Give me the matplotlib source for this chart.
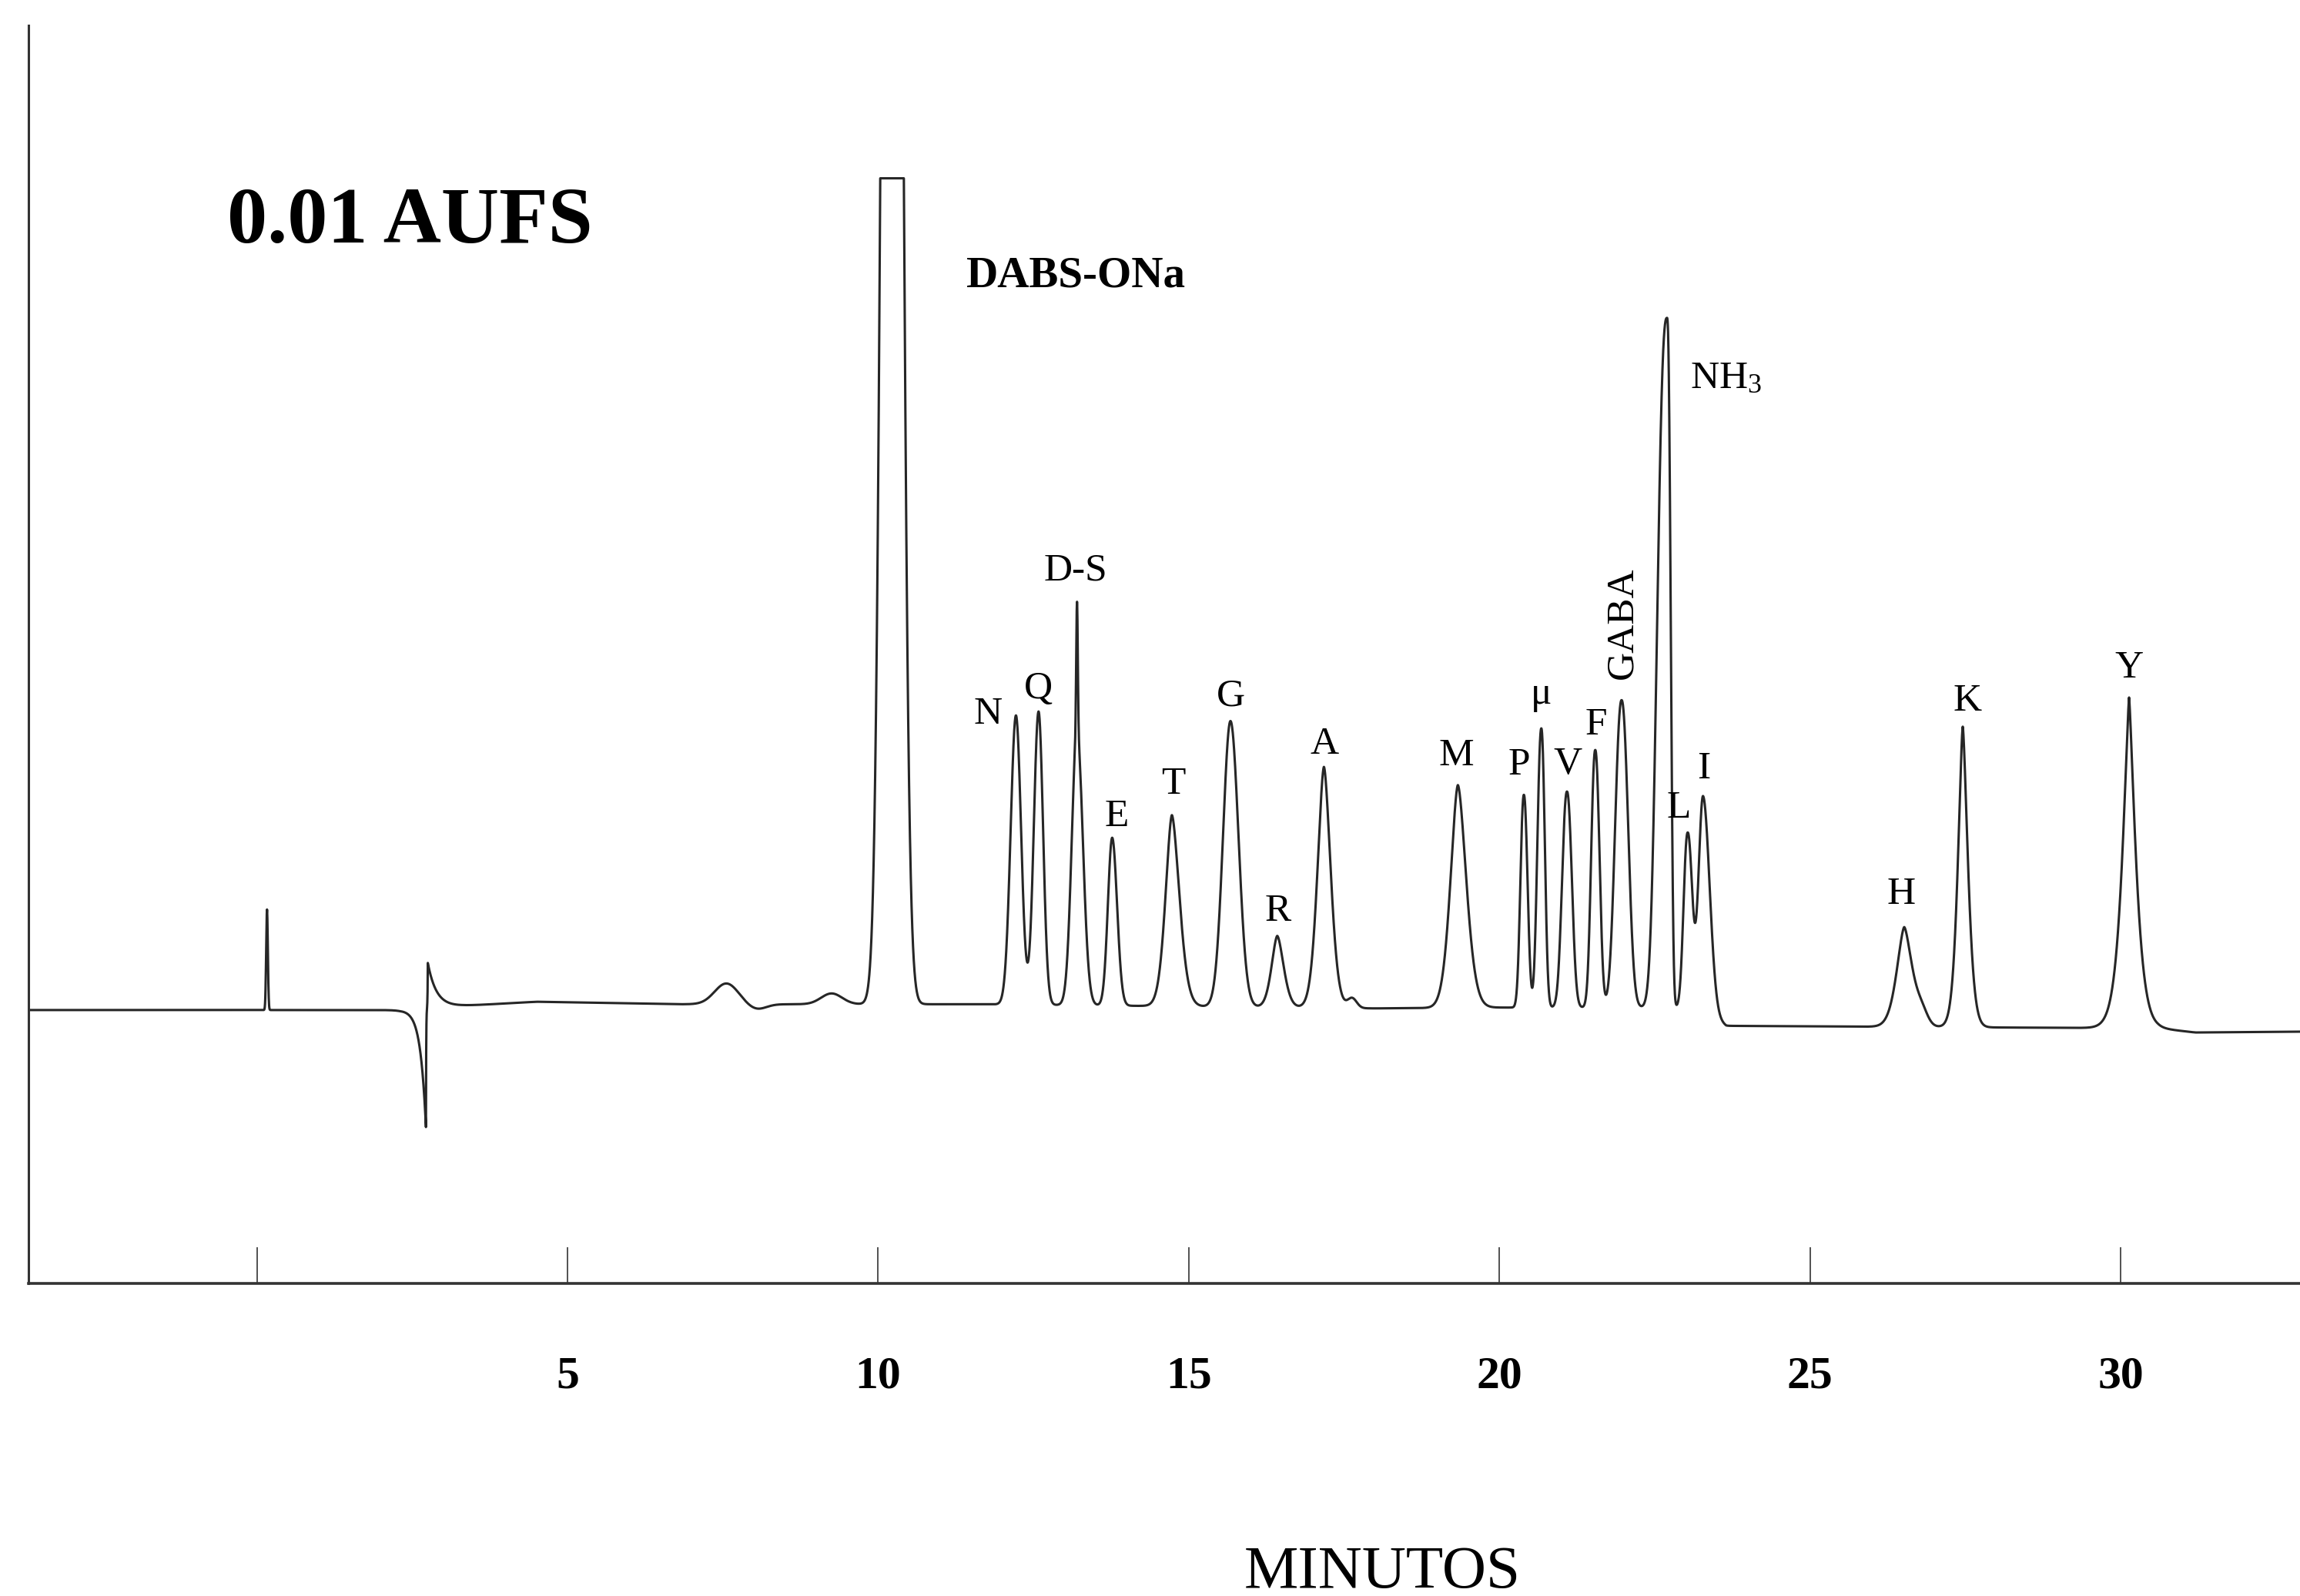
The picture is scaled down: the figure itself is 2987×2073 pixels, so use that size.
import numpy as np
import matplotlib
matplotlib.use("Agg")
import matplotlib.pyplot as plt

# ------------------------------------------------------------------
# Data
# time in minutes, signal in % of full scale (0.01 AUFS)
# ------------------------------------------------------------------
tick_values = [0, 5, 10, 15, 20, 25, 30]
tick_labels = ["", "5", "10", "15", "20", "25", "30"]

# baseline drift
baseline_t = [-3.7, 2.3, 3.3, 4.5, 6.8, 11.7, 18.0, 19.8, 23.15, 23.65, 28.1, 30.6, 31.2, 32.9]
baseline_y = [-0.1, -0.1, 0.4, 0.9, 0.6, 0.6, 0.1, 0.2, 0.2, -2.0, -2.2, -2.3, -2.8, -2.7]

# chromatographic peaks
peak_labels = ["", "", "", "", "DABS-ONa", "N", "Q", "D-S", "", "E", "T", "G", "R", "A", "",
               "M", "P", "\u03bc", "V", "F", "GABA", "NH3", "L", "I", "H", "", "K", "Y"]
peak_t = [0.164, 7.557, 8.049, 9.251, 10.224, 12.218, 12.582, 13.201, 13.201, 13.767, 14.728,
          15.671, 16.424, 17.175, 17.628, 19.331, 20.393, 20.674, 21.087, 21.542, 21.966,
          22.697, 23.029, 23.277, 26.515, 26.80, 27.457, 30.134]
peak_h = [12.1, 2.5, -0.6, 1.3, 343.0, 34.8, 35.3, 33.0, 15.6, 20.2, 23.0,
          34.4, 8.6, 29.0, 1.2, 26.8, 25.6, 33.6, 26.0, 31.0, 37.0,
          83.0, 21.0, 26.0, 12.0, 1.4, 36.2, 39.8]
peak_hw_left = [0.016, 0.223, 0.174, 0.198, 0.1425, 0.100, 0.090, 0.099, 0.015, 0.081, 0.118,
                0.140, 0.105, 0.118, 0.087, 0.136, 0.064, 0.072, 0.090, 0.075, 0.118,
                0.170, 0.075, 0.085, 0.136, 0.110, 0.087, 0.115]
peak_hw_right = [0.016, 0.223, 0.174, 0.198, 0.1425, 0.097, 0.085, 0.110, 0.015, 0.092, 0.140,
                 0.150, 0.118, 0.124, 0.087, 0.155, 0.068, 0.064, 0.090, 0.078, 0.120,
                 0.065, 0.085, 0.124, 0.149, 0.110, 0.093, 0.115]
peak_shape = [2, 2, 2, 2, 2, 2, 2, 2, 2, 2, 1.7,
              2, 1.7, 1.7, 2, 1.7, 2.2, 2.2, 2.2, 2.2, 2.2,
              2.6, 2.2, 2, 1.6, 2, 1.5, 1.3]

# solvent-front disturbance (exponential transients)
trans_t = [2.722, 2.752]
trans_h = [-14.3, 5.45]
trans_tau_left = [0.09, 0.004]
trans_tau_right = [0.004, 0.14]

saturation = 100.0  # detector clipped at full scale

# ------------------------------------------------------------------
t = np.arange(-3.7, 32.95, 0.002)
signal = np.interp(t, baseline_t, baseline_y)
for t0, h, hl, hr, p in zip(peak_t, peak_h, peak_hw_left, peak_hw_right, peak_shape):
    d = t - t0
    hw = np.where(d < 0, hl, hr)
    s = hw / np.log(2) ** (1.0 / p)
    signal += h * np.exp(-(np.abs(d) / s) ** p)
for t0, h, tl, tr in zip(trans_t, trans_h, trans_tau_left, trans_tau_right):
    d = t - t0
    tau = np.where(d < 0, tl, tr)
    signal += h * np.exp(-np.abs(d) / tau)
signal = np.minimum(signal, saturation)

# ------------------------------------------------------------------
plt.rcParams["font.family"] = ["Liberation Serif", "DejaVu Serif"]
plt.rcParams["mathtext.fontset"] = "custom"
plt.rcParams["mathtext.rm"] = "Liberation Serif"
plt.rcParams["mathtext.it"] = "Liberation Serif:italic"
plt.rcParams["mathtext.bf"] = "Liberation Serif:bold"

W, H = 2987, 2073
fig = plt.figure(figsize=(W / 100, H / 100), dpi=100)
ax = fig.add_axes([37 / W, 1 - 1667 / H, 1 - 37 / W, (1667 - 33) / H])

ax.plot(t, signal, color="#262626", lw=2.2, solid_joinstyle="round")
ax.set_xlim(-3.675, 32.885)
ax.set_ylim(-33.0, 118.4)

for side in ("top", "right"):
    ax.spines[side].set_visible(False)
ax.spines["left"].set_linewidth(2.2)
ax.spines["bottom"].set_linewidth(2.6)
ax.spines["left"].set_color("#333333")
ax.spines["bottom"].set_color("#333333")

ax.set_yticks([])
ax.set_xticks(tick_values)
ax.set_xticklabels(tick_labels, fontsize=43, fontweight="bold")
ax.tick_params(axis="x", direction="in", length=34, width=1.1, color="#222222", pad=68)

# peak annotations: (dx, dy) offsets in points from the apex, baseline-anchored
label_offsets = {
    "N": (-26.5, -7.8), "Q": (0, 12.2), "D-S": (-1.2, 20.0), "E": (3.9, 11.2),
    "T": (1.3, 20.2), "G": (0, 14.4), "R": (0.5, 14.2), "A": (0.4, 12.6),
    "M": (-1.2, 18.7), "P": (-4.3, 18.7), "\u03bc": (0, 23.0), "V": (0.7, 16.6),
    "F": (0.7, 14.4), "L": (-8.4, 14.0), "I": (1.0, 16.2), "H": (-2.9, 21.4),
    "K": (4.3, 15.1), "Y": (0, 18.7),
}
for name, t0 in zip(peak_labels, peak_t):
    if not name or name == "DABS-ONa":
        continue
    apex = float(np.interp(t0, t, signal))
    if name == "GABA":
        ax.annotate("GABA", xy=(t0, apex), xytext=(0.5, 20), textcoords="offset points",
                    ha="center", va="bottom", rotation=90, fontsize=37)
    elif name == "NH3":
        ax.annotate(r"$\mathrm{NH}_3$", xy=(t0, apex), xytext=(21.6, -66),
                    textcoords="offset points", ha="left", va="baseline", fontsize=37)
    else:
        dx, dy = label_offsets[name]
        ax.annotate(name, xy=(t0, apex), xytext=(dx, dy), textcoords="offset points",
                    ha="center", va="baseline", fontsize=37)

fig.text(294.6 / W, 1 - 315 / H, "0.01 AUFS", fontsize=75, fontweight="bold",
         ha="left", va="baseline")
fig.text(1254.5 / W, 1 - 372.7 / H, "DABS-ONa", fontsize=41, fontweight="bold",
         ha="left", va="baseline")
fig.text(1795.5 / W, 1 - 2061.7 / H, "MINUTOS", fontsize=57, ha="center", va="baseline")

fig.savefig("out.png", dpi=100)
